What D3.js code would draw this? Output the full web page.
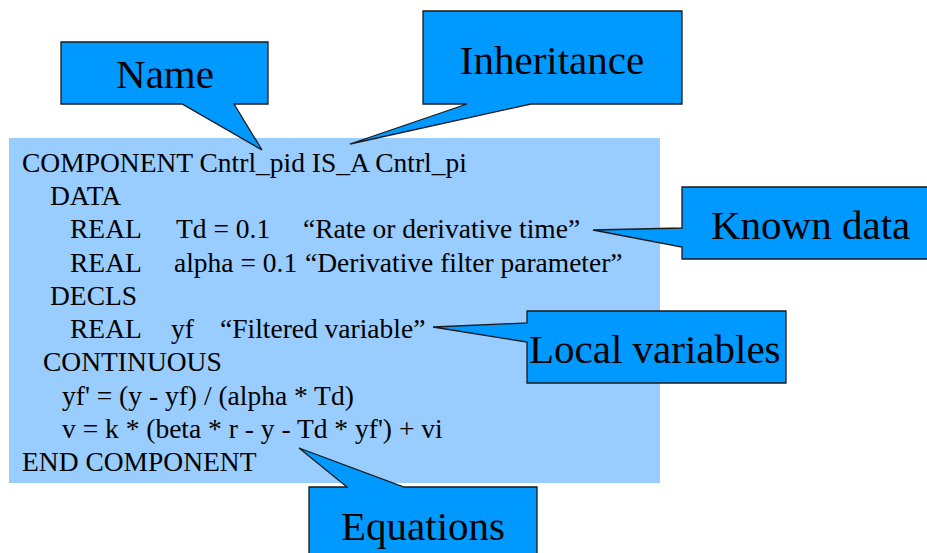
<!DOCTYPE html>
<html>
<head>
<meta charset="utf-8">
<script src="https://cdn.jsdelivr.net/npm/d3@7"></script>
<style>
  html, body { margin: 0; padding: 0; background: #fff; }
  svg { display: block; }
</style>
</head>
<body>
<div id="chart"></div>
<script>
// Code listing, one entry per line, split into columns
const codeLines = [
  ["COMPONENT Cntrl_pid IS_A Cntrl_pi"],
  ["DATA"],
  ["REAL", "Td = 0.1", "\u201cRate or derivative time\u201d"],
  ["REAL", "alpha = 0.1", "\u201cDerivative filter parameter\u201d"],
  ["DECLS"],
  ["REAL", "yf", "\u201cFiltered variable\u201d"],
  ["CONTINUOUS"],
  ["yf' = (y - yf) / (alpha * Td)"],
  ["v = k * (beta * r - y - Td * yf') + vi"],
  ["END COMPONENT"]
];

// Callout labels
const calloutLabels = ["Name", "Inheritance", "Known data", "Local variables", "Equations"];

document.addEventListener('DOMContentLoaded', function() {
  const width = 927, height = 553;
  const serif = "'Liberation Serif', 'Times New Roman', Tinos, serif";

  const svg = d3.select('#chart')
    .append('svg')
    .attr('width', width)
    .attr('height', height);

  // indentation of each code line and x of the extra columns
  const indent = [22, 50, 70, 70, 50, 70, 43, 62, 62, 22];
  const colX = [
    [null, null], [null, null], [176, 303], [174, 305], [null, null],
    [171, 220], [null, null], [null, null], [null, null], [null, null]
  ];

  // baselines of code lines
  const y = d3.scaleLinear()
    .domain([0, codeLines.length - 1])
    .range([172, 471]);

  // light blue code panel
  svg.append('rect')
    .attr('x', 9)
    .attr('y', 138)
    .attr('width', 651)
    .attr('height', 345)
    .attr('fill', '#99ccff');

  codeLines.forEach((cols, i) => {
    cols.forEach((t, j) => {
      const x = j === 0 ? indent[i] : colX[i][j - 1];
      svg.append('text')
        .attr('x', x)
        .attr('y', y(i))
        .style('font-family', serif)
        .style('font-size', '27.5px')
        .attr('fill', '#000')
        .text(t);
    });
  });

  // callout shapes: box + pointer as one outline
  const shapes = [
    { path: 'M61,42 H268 V104 H234 L262,150 L182,104 H61 Z', tx: 165, ty: 88, anchor: 'middle' },
    { path: 'M423,11 H682 V104 H531 L350,144 L467,104 H423 Z', tx: 552, ty: 74, anchor: 'middle' },
    { path: 'M682,187 H940 V259 H682 V247 L593,230 L682,228 Z', tx: 711, ty: 239, anchor: 'start' },
    { path: 'M527,311 H786 V383 H527 V342 L433,327 L527,323 Z', tx: 529, ty: 363, anchor: 'start' },
    { path: 'M309,487 H347 L299,448 L404,487 H537 V570 H309 Z', tx: 423, ty: 540, anchor: 'middle' }
  ];

  const g = svg.append('g');
  g.selectAll('path.callout')
    .data(calloutLabels)
    .enter()
    .append('path')
    .attr('class', 'callout')
    .attr('d', (d, i) => shapes[i].path)
    .attr('fill', '#0099ff')
    .attr('stroke', '#1a1a1a')
    .attr('stroke-width', 1.3)
    .attr('stroke-linejoin', 'miter');

  g.selectAll('text.callout-label')
    .data(calloutLabels)
    .enter()
    .append('text')
    .attr('class', 'callout-label')
    .attr('x', (d, i) => shapes[i].tx)
    .attr('y', (d, i) => shapes[i].ty)
    .attr('text-anchor', (d, i) => shapes[i].anchor)
    .style('font-family', serif)
    .style('font-size', '41px')
    .attr('fill', '#000')
    .text(d => d);
});
</script>
</body>
</html>
